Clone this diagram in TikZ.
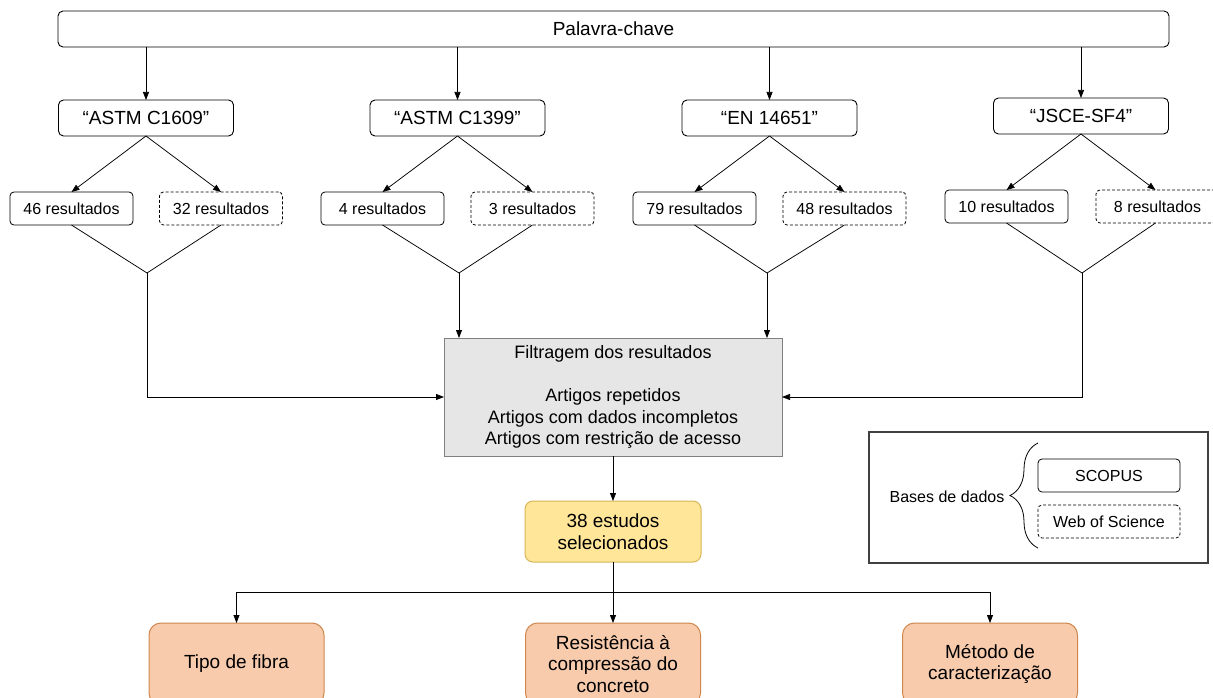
\documentclass[tikz,border=0pt]{standalone}
\usepackage{fontspec}
\setmainfont{Liberation Sans}
\usetikzlibrary{arrows.meta,decorations.pathreplacing}
\definecolor{filtfill}{HTML}{E6E6E6}
\definecolor{filtline}{HTML}{808080}
\definecolor{yelfill}{HTML}{FFE699}
\definecolor{yelline}{HTML}{D6B656}
\definecolor{orfill}{HTML}{F8CBAD}
\definecolor{orline}{HTML}{D0874E}
\definecolor{legline}{HTML}{404040}
\tikzset{
  every node/.style={inner sep=0pt, outer sep=0pt, align=center, text=black},
  fbig/.style={font=\fontsize{19}{21.5}\selectfont},
  fmid/.style={font=\fontsize{18}{21.5}\selectfont},
  fsmall/.style={font=\fontsize{16}{19}\selectfont},
  topbox/.style={draw, line width=0.9pt, rounded corners=5pt, minimum width=1111pt, minimum height=36pt, fbig},
  keybox/.style={draw, line width=0.9pt, rounded corners=5pt, minimum width=175pt, minimum height=36pt, fbig},
  resbox/.style={draw, line width=0.8pt, rounded corners=4pt, minimum width=123pt, minimum height=33pt, fsmall},
  resdash/.style={resbox, dash pattern=on 3pt off 2pt},
  filtbox/.style={draw=filtline, fill=filtfill, line width=1pt, minimum width=338pt, minimum height=118pt, fmid},
  selbox/.style={draw=yelline, fill=yelfill, line width=1pt, rounded corners=8pt, minimum width=176pt, minimum height=61pt, fbig},
  outbox/.style={draw=orline, fill=orfill, line width=1pt, rounded corners=12pt, minimum width=175pt, minimum height=82pt, fbig},
  legbox/.style={draw=legline, line width=1.3pt, minimum width=339pt, minimum height=131pt},
  legsc/.style={draw, line width=0.8pt, rounded corners=4pt, minimum width=142pt, minimum height=33pt, fsmall},
  legws/.style={legsc, dash pattern=on 3pt off 2pt},
  conn/.style={line width=0.75pt, draw=black},
  arr/.style={conn, -{Triangle[length=8pt,width=6pt]}},
}
\begin{document}
\begin{tikzpicture}[x=1pt,y=-1pt]
\useasboundingbox (0,0) rectangle (1213,698);
\fill[white] (0,0) rectangle (1213,698);

% top
\node[topbox] (top) at (613.5,29) {Palavra-chave};

% keywords
\node[keybox] (k1) at (146,118) {“ASTM C1609”};
\node[keybox] (k2) at (457.5,118) {“ASTM C1399”};
\node[keybox] (k3) at (769.5,118) {“EN 14651”};
\node[keybox] (k4) at (1081,116) {“JSCE-SF4”};

% results
\node[resbox]  (r1a) at (71.5,208.5) {46 resultados};
\node[resdash] (r1b) at (221,208.5) {32 resultados};
\node[resbox]  (r2a) at (382.5,208.5) {4 resultados};
\node[resdash] (r2b) at (532.5,208.5) {3 resultados};
\node[resbox]  (r3a) at (694.5,208.5) {79 resultados};
\node[resdash] (r3b) at (844.5,208.5) {48 resultados};
\node[resbox]  (r4a) at (1006.5,206.5) {10 resultados};
\node[resdash] (r4b) at (1157.5,206.5) {8 resultados};

% vertices of V
\coordinate (v1) at (147,273);
\coordinate (v2) at (459,273);
\coordinate (v3) at (767,273);
\coordinate (v4) at (1082,273);

% filter
\node[filtbox] (filt) at (613,397) {Filtragem dos resultados\\[21.5pt]Artigos repetidos\\Artigos com dados incompletos\\Artigos com restrição de acesso};

% selected
\node[selbox] (sel) at (613,531.5) {38 estudos\\selecionados};

% outputs
\node[outbox] (o1) at (236.5,664) {Tipo de fibra};
\node[outbox] (o2) at (613,664) {Resistência à\\compressão do\\concreto};
\node[outbox] (o3) at (990,664) {Método de\\caracterização};
\coordinate (bus) at (613,592);

% legend
\node[legbox] (leg) at (1038.5,497.5) {};
\node[fsmall] (bd) at (947,497) {Bases de dados};
\node[legsc] (sc) at (1109,475.5) {SCOPUS};
\node[legws] (ws) at (1109,521.5) {Web of Science};
\coordinate (brb) at (1038,548);
\coordinate (brt) at (1038,443);
\draw[line width=0.8pt, decorate, decoration={brace, amplitude=28pt, aspect=0.5}] (brb) -- (brt);

% connectors: top to keywords
\foreach \k in {k1,k2,k3,k4} \draw[arr] (top.south -| \k) -- (\k.north);

% keywords to results
\draw[arr] (k1.south) -- (r1a.north);
\draw[arr] (k1.south) -- (r1b.north);
\draw[arr] (k2.south) -- (r2a.north);
\draw[arr] (k2.south) -- (r2b.north);
\draw[arr] (k3.south) -- (r3a.north);
\draw[arr] (k3.south) -- (r3b.north);
\draw[arr] (k4.south) -- (r4a.north);
\draw[arr] (k4.south) -- ([xshift=-2pt]r4b.north);

% V shapes
\draw[conn] (r1a.south) -- (v1) -- (r1b.south);
\draw[conn] (r2a.south) -- (v2) -- (r2b.south);
\draw[conn] (r3a.south) -- (v3) -- (r3b.south);
\draw[conn] (r4a.south) -- (v4) -- ([xshift=-2pt]r4b.south);

% to filter
\draw[arr] (v1) |- (filt.west);
\draw[arr] (v2) -- (v2 |- filt.north);
\draw[arr] (v3) -- (v3 |- filt.north);
\draw[arr] (v4) |- (filt.east);

% filter to selected
\draw[arr] (filt.south) -- (sel.north);

% selected to outputs
\draw[conn] (sel.south) -- (bus);
\draw[arr] (bus) -| (o1.north);
\draw[arr] (bus) -- (o2.north);
\draw[arr] (bus) -| (o3.north);
\end{tikzpicture}
\end{document}
